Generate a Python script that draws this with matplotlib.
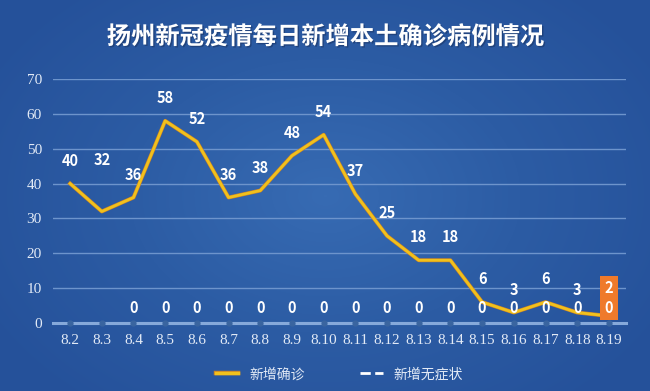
import numpy as np
import matplotlib
matplotlib.use("Agg")
import matplotlib.pyplot as plt
import matplotlib.patheffects as pe
from matplotlib.colors import LinearSegmentedColormap
from matplotlib.lines import Line2D

plt.rcParams['font.family'] = ['Noto Sans CJK SC', 'DejaVu Sans']

dates = ['8.2', '8.3', '8.4', '8.5', '8.6', '8.7', '8.8', '8.9', '8.10',
         '8.11', '8.12', '8.13', '8.14', '8.15', '8.16', '8.17', '8.18', '8.19']
confirmed = [40, 32, 36, 58, 52, 36, 38, 48, 54, 37, 25, 18, 18, 6, 3, 6, 3, 2]
asymptomatic = [0] * 18
# zero labels for the asymptomatic series start at 8.4
asym_labelled = [False, False] + [True] * 16
yticks = list(range(0, 71, 10))

fig = plt.figure(figsize=(6.5, 3.91), dpi=100)

# background gradient
h, w = 391, 650
yy, xx = np.mgrid[0:h, 0:w]
r = np.sqrt(((xx - w * 0.5) / (w * 0.6)) ** 2 + ((yy - h * 0.5) / (h * 0.7)) ** 2)
cmap = LinearSegmentedColormap.from_list('bg', ['#376bb3', '#2c5ca4', '#25519a'])
fig.figimage(np.clip(r, 0, 1), cmap=cmap, vmin=0, vmax=1, zorder=-10)

ax = fig.add_axes([53 / 650, 1 - 323 / 391, (626 - 53) / 650, (323 - 79) / 391])
ax.patch.set_alpha(0)
x = np.arange(len(dates))

serif = ['Liberation Serif', 'DejaVu Serif']
ax.set_ylim(0, 70)
ax.set_xlim(-0.54, len(dates) - 1 + 0.54)
ax.set_yticks(yticks, labels=[str(t) for t in yticks], fontfamily=serif, fontsize=11)
ax.set_xticks(x, labels=dates, fontfamily=serif, fontsize=11)
for s in ax.spines.values():
    s.set_visible(False)
ax.grid(axis='y', color='#6d94cc', lw=1)
ax.set_axisbelow(True)
ax.tick_params(length=0, colors='#e2eaf6', pad=8)

# axis line, with the asymptomatic series sitting on it
ax.axhline(0, color='#86a9da', lw=2.2, zorder=2.5, clip_on=False)
ax.plot(x, asymptomatic, color='#86a9da', lw=2.2, zorder=3, clip_on=False,
        marker='o', ms=3.5, mfc='#3a65a0', mec='#3a65a0')
ax.plot(x, confirmed, color='#f1c11c', lw=2, zorder=4,
        path_effects=[pe.Stroke(linewidth=2.8, foreground='#c9822a'), pe.Normal()])

for i, v in enumerate(confirmed):
    if i == len(confirmed) - 1:
        continue
    off = 16.5 if i != 1 else 37
    ax.annotate(str(v), (i, v), xytext=(0, off), textcoords='offset points',
                ha='center', va='center', color='white', fontsize=10.5,
                fontweight='bold', zorder=6)

for i, v in enumerate(asymptomatic):
    if asym_labelled[i] and i != len(asymptomatic) - 1:
        ax.annotate(str(v), (i, v), xytext=(0, 11), textcoords='offset points',
                    ha='center', va='center', color='white', fontsize=10.5,
                    fontweight='bold', zorder=6)

# highlighted last day
last = len(dates) - 1
ax.annotate(f'{confirmed[last]}\n{asymptomatic[last]}', (last, 0), xytext=(0, 18),
            textcoords='offset points', ha='center', va='center', color='white',
            fontsize=10.5, fontweight='bold', linespacing=1.25, zorder=7,
            bbox=dict(boxstyle='square,pad=0.3', fc='#ef7a2b', ec='none'))

handles = [Line2D([], [], color='#f1c11c', lw=2.5,
                  path_effects=[pe.Stroke(linewidth=3.2, foreground='#c9822a'), pe.Normal()]),
           Line2D([], [], color='white', lw=2, ls='--')]
leg = ax.legend(handles, ['新增确诊', '新增无症状'], loc='upper center',
                bbox_to_anchor=(0.5, -0.13), ncol=2, frameon=False,
                fontsize=10, handlelength=1.6, columnspacing=4)
for t in leg.get_texts():
    t.set_color('#e2eaf6')

fig.text(0.5, 1 - 37 / 391, '扬州新冠疫情每日新增本土确诊病例情况', ha='center',
         va='center', color='white', fontsize=17.5, fontweight='bold',
         path_effects=[pe.withSimplePatchShadow(offset=(1, -1), shadow_rgbFace='#1a3566', alpha=0.6)])

fig.savefig('out.png', dpi=100)
